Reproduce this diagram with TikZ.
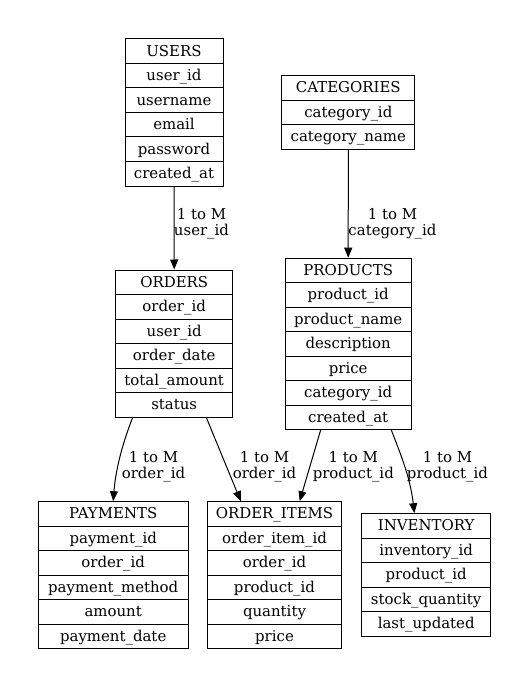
\documentclass[tikz,border=0pt]{standalone}
\usepackage{fontspec}
\setmainfont{DejaVu Serif}
\usetikzlibrary{arrows.meta,calc}
\tikzset{
 cell/.style={draw=black, line width=0.75pt, inner sep=0pt, minimum height=18.375pt,
   font=\fontsize{11.2}{12}\selectfont, text height=9.8pt, text depth=2.3pt, anchor=center},
 lbl/.style={align=center, inner sep=0pt, font=\fontsize{11.2}{12}\selectfont},
 rel/.style={line width=0.75pt, -{Triangle[length=7.5pt,width=6pt]}}
}
\newcommand\ertable[5]{%
  \foreach \t [count=\i from 0] in {#5}{%
    \node[cell, minimum width={#4*0.75pt}] (#1-\i) at (#2,{#3+12.25+24.5*\i}) {\t};}}
\begin{document}
\begin{tikzpicture}[x=0.75pt,y=-0.75pt]
\path[use as bounding box] (0,0) rectangle (529,688);
\ertable{users}{174}{39}{98}{USERS,user\_id,username,email,password,created\_at}
\ertable{cat}{348.3}{75.7}{133.3}{CATEGORIES,category\_id,category\_name}
\ertable{orders}{174.2}{270}{117}{ORDERS,order\_id,user\_id,order\_date,total\_amount,status}
\ertable{prod}{348.2}{258.2}{125.7}{PRODUCTS,product\_id,product\_name,description,price,category\_id,created\_at}
\ertable{pay}{113.2}{501.7}{149.7}{PAYMENTS,payment\_id,order\_id,payment\_method,amount,payment\_date}
\ertable{items}{274.5}{501.7}{134.4}{ORDER\_ITEMS,order\_item\_id,order\_id,product\_id,quantity,price}
\ertable{inv}{426.2}{513.7}{129}{INVENTORY,inventory\_id,product\_id,stock\_quantity,last\_updated}

\coordinate (o1) at ($(orders-5.south west)!0.148!(orders-5.south east)$);
\coordinate (o2) at ($(orders-5.south west)!0.772!(orders-5.south east)$);
\coordinate (p1) at ($(prod-6.south west)!0.282!(prod-6.south east)$);
\coordinate (p2) at ($(prod-6.south west)!0.841!(prod-6.south east)$);
\coordinate (i1) at ($(items-0.north west)!0.251!(items-0.north east)$);
\coordinate (i2) at ($(items-0.north west)!0.686!(items-0.north east)$);
\coordinate (v1) at ($(inv-0.north west)!0.409!(inv-0.north east)$);

\draw[rel] (users-5.south) -- (orders-0.north);
\draw[rel] (cat-2.south) -- (prod-0.north);
\draw[rel] (o1) .. controls (125,437) and (116,465) .. (pay-0.north);
\draw[rel] (o2) -- (i1);
\draw[rel] (p1) -- (i2);
\draw[rel] (p2) .. controls (398,448) and (410,475) .. (v1);

\node[lbl] (l1) at (201.5,223.5) {1 to M\\user\_id};
\node[lbl] (l2) at (392.5,223.5) {1 to M\\category\_id};
\node[lbl] (l3) at (153.5,467) {1 to M\\order\_id};
\node[lbl] (l4) at (264.5,467) {1 to M\\order\_id};
\node[lbl] (l5) at (353.3,467) {1 to M\\product\_id};
\node[lbl] (l6) at (447.5,467) {1 to M\\product\_id};
\end{tikzpicture}
\end{document}
